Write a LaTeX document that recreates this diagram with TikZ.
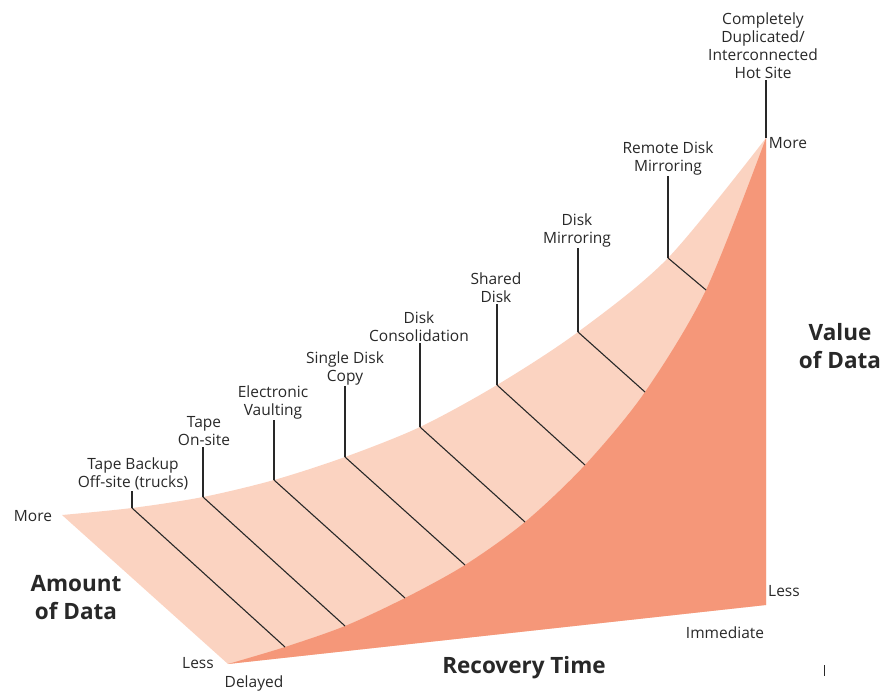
\documentclass[tikz,border=0pt]{standalone}
\usepackage{fontspec}
\setmainfont{Open Sans}
\usepackage{tikz}
\usetikzlibrary{calc, positioning}

\definecolor{pale}{RGB}{251,211,193}
\definecolor{salmon}{RGB}{245,151,121}
\definecolor{ink}{RGB}{40,40,40}

\tikzset{
  lbl/.style={font=\fontsize{15.5}{18}\selectfont, align=center, text=ink, inner sep=1pt},
  axislbl/.style={font=\fontsize{22.5}{28}\selectfont\bfseries, align=center, text=ink, inner sep=0pt},
  tick/.style={ink, line width=1.2pt}
}

\begin{document}
\begin{tikzpicture}[x=1pt, y=-1pt]
    \useasboundingbox (0,0) rectangle (889,692);

    % Eckpunkte
    \coordinate (more) at (62,515);
    \coordinate (origin) at (228,664);
    \coordinate (apex) at (766,138);
    \coordinate (corner) at (766,605);

    % Punkte auf der oberen und unteren Kurve
    \foreach \n/\x/\y in {1/132/508, 2/203/497, 3/274/480, 4/345/457,
                          5/420/427, 6/497/385, 7/578/332, 8/668/258} {
         \coordinate (t\n) at (\x,\y);
    }
    \foreach \n/\x/\y in {1/285/647, 2/345/626, 3/405/598, 4/465/565,
                          5/525/522, 6/585/465, 7/645/392, 8/706/290} {
         \coordinate (b\n) at (\x,\y);
    }

    % Flaechen
    \fill[pale] plot[smooth] coordinates {(more) (t1) (t2) (t3) (t4) (t5) (t6) (t7) (t8) (apex)}
        -- (corner) -- (origin) -- cycle;
    \fill[salmon] plot[smooth] coordinates {(origin) (b1) (b2) (b3) (b4) (b5) (b6) (b7) (b8) (apex)}
        -- (corner) -- cycle;

    % Beschriftungen der Verfahren
    \foreach \n/\x/\y/\txt in {1/133/491/{Tape Backup\\Off-site (trucks)},
                               2/204/447/{Tape\\On-site},
                               3/273/420/{Electronic\\Vaulting},
                               4/345/386/{Single Disk\\Copy},
                               5/419/343/{Disk\\Consolidation},
                               6/496/304/{Shared\\Disk},
                               7/577/248/{Disk\\Mirroring},
                               8/668/176/{Remote Disk\\Mirroring}} {
         \node[lbl, anchor=south] (l\n) at (\x,\y) {\txt};
         \draw[tick] (t\n) -- (t\n |- l\n.south);
         \draw[ink, line width=1.1pt] (t\n) -- (b\n);
    }
    \node[lbl, anchor=south] (l9) at (763,80) {Completely\\Duplicated/\\Interconnected\\Hot Site};
    \draw[tick] (apex) -- (apex |- l9.south);

    % Achsen
    \node[lbl] (moreA) at (33,516) {More};
    \node[lbl] (lessA) at (198,663) {Less};
    \node[lbl] (delayed) at (254,683) {Delayed};
    \node[lbl] (immediate) at (725,633) {Immediate};
    \node[lbl] (lessV) at (784,591) {Less};
    \node[lbl] (moreV) at (788,143) {More};
    \node[axislbl] (amount) at (76,598) {Amount\\of Data};
    \node[axislbl] (recovery) at (524,668) {Recovery Time};
    \node[axislbl] (value) at (840,346) {Value\\of Data};

    \coordinate (m1) at (824,665);
    \coordinate (m2) at (824,676);
    \draw[ink, line width=1pt] (m1) -- (m2);
\end{tikzpicture}
\end{document}
